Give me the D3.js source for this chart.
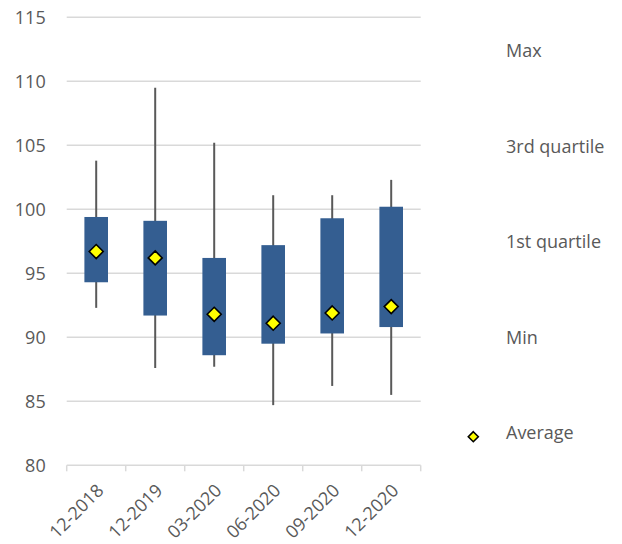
<!DOCTYPE html>
<html>
<head>
<meta charset="utf-8">
<script src="https://cdn.jsdelivr.net/npm/d3@7"></script>
<style>
  html, body { margin: 0; padding: 0; background: #fff; }
  svg text { font-family: "Open Sans", "Liberation Sans", sans-serif; fill: #595959; }
</style>
</head>
<body>
<svg id="chart" width="622" height="544"></svg>
<script>
// Quarterly distribution: whisker ends, box edges and mean
const categories = ["12-2018", "12-2019", "03-2020", "06-2020", "09-2020", "12-2020"];
const maxValues  = [103.8, 109.5, 105.2, 101.1, 101.1, 102.3];
const q3Values   = [99.4, 99.1, 96.2, 97.2, 99.3, 100.2];
const q1Values   = [94.3, 91.7, 88.6, 89.5, 90.3, 90.8];
const minValues  = [92.3, 87.6, 87.7, 84.7, 86.2, 85.5];
const avgValues  = [96.7, 96.2, 91.8, 91.1, 91.9, 92.4];
const yTickValues = [80, 85, 90, 95, 100, 105, 110, 115];
const legendLabels = ["Max", "3rd quartile", "1st quartile", "Min", "Average"];

const rows = categories.map((c, i) => ({
  cat: c, max: maxValues[i], q3: q3Values[i], q1: q1Values[i], min: minValues[i], avg: avgValues[i]
}));

const svg = d3.select("#chart");
const plotLeft = 66.7, plotRight = 420.7, plotTop = 17.3, plotBottom = 465.3;

const x = d3.scaleBand().domain(categories).range([plotLeft, plotRight]).padding(0);
const y = d3.scaleLinear().domain([80, 115]).range([plotBottom, plotTop]);

const boxW = x.bandwidth() * 0.4;
const cx = d => x(d) + x.bandwidth() / 2;

// Horizontal gridlines
svg.append("g")
  .selectAll("line")
  .data(yTickValues.filter(v => v > 80))
  .join("line")
  .attr("x1", plotLeft).attr("x2", plotRight)
  .attr("y1", d => y(d)).attr("y2", d => y(d))
  .attr("stroke", "#d9d9d9").attr("stroke-width", 1.5);

// Y axis labels
const yAxis = svg.append("g")
  .attr("transform", `translate(${plotLeft},0)`)
  .call(d3.axisLeft(y).tickValues(yTickValues).tickSize(0).tickPadding(21).tickFormat(d3.format("d")));
yAxis.select(".domain").remove();
yAxis.selectAll("text")
  .style("font-family", "'Open Sans', 'Liberation Sans', sans-serif")
  .style("font-size", "18px")
  .attr("fill", "#595959");

// X axis: baseline, category-edge ticks, rotated labels
const xAxis = svg.append("g")
  .attr("transform", `translate(0,${plotBottom})`)
  .call(d3.axisBottom(x).tickSize(0).tickPadding(0));
xAxis.select(".domain").attr("stroke", "#d9d9d9").attr("stroke-width", 1.5)
  .attr("d", `M${plotLeft},0H${plotRight}`);
xAxis.selectAll("text")
  .style("font-family", "'Open Sans', 'Liberation Sans', sans-serif")
  .style("font-size", "18px")
  .attr("fill", "#595959")
  .attr("text-anchor", "end")
  .attr("dy", "0.35em")
  .attr("transform", "translate(4,22) rotate(-45)");

const edges = categories.map(c => x(c)).concat([plotRight]);
svg.append("g")
  .selectAll("line")
  .data(edges)
  .join("line")
  .attr("x1", d => d).attr("x2", d => d)
  .attr("y1", plotBottom).attr("y2", plotBottom + 6)
  .attr("stroke", "#d9d9d9").attr("stroke-width", 1.5);

// Whiskers from min to max
svg.append("g")
  .selectAll("line")
  .data(rows)
  .join("line")
  .attr("x1", d => cx(d.cat)).attr("x2", d => cx(d.cat))
  .attr("y1", d => y(d.min)).attr("y2", d => y(d.max))
  .attr("stroke", "#595959").attr("stroke-width", 2);

// Interquartile boxes
svg.append("g")
  .selectAll("rect")
  .data(rows)
  .join("rect")
  .attr("x", d => cx(d.cat) - boxW / 2)
  .attr("width", boxW)
  .attr("y", d => y(d.q3))
  .attr("height", d => y(d.q1) - y(d.q3))
  .attr("fill", "#345e91");

// Mean markers
const diamond = r => `M0,${-r}L${r},0L0,${r}L${-r},0Z`;
svg.append("g")
  .selectAll("path")
  .data(rows)
  .join("path")
  .attr("transform", d => `translate(${cx(d.cat)},${y(d.avg)})`)
  .attr("d", diamond(7))
  .attr("fill", "#ffff00")
  .attr("stroke", "#000").attr("stroke-width", 1.6);

// Legend
const legend = svg.append("g");
legend.selectAll("text")
  .data(legendLabels)
  .join("text")
  .attr("x", 506)
  .attr("y", (d, i) => 57.3 + i * 95.5)
  .style("font-size", "18px")
  .text(d => d);
legend.append("path")
  .attr("transform", "translate(473.3,436.7)")
  .attr("d", diamond(5))
  .attr("fill", "#ffff00")
  .attr("stroke", "#000").attr("stroke-width", 1.6);
</script>
</body>
</html>
